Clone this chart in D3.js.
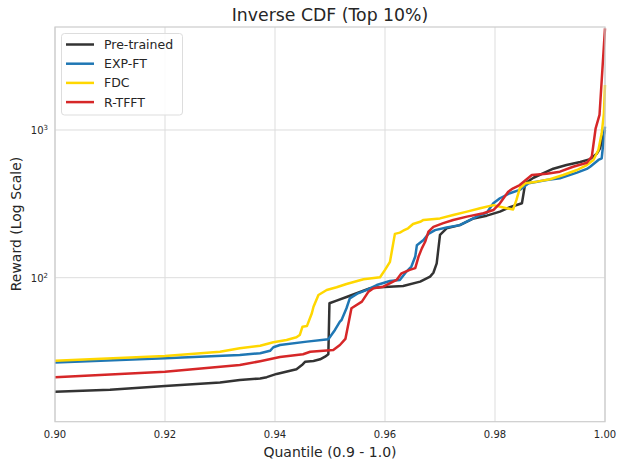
<!DOCTYPE html>
<html><head><meta charset="utf-8">
<script src="https://cdn.jsdelivr.net/npm/d3@7/dist/d3.min.js"></script>
<style>body{margin:0;background:#fff;} text{font-family:"DejaVu Sans",sans-serif;}</style>
</head><body><svg id="c" width="618" height="461"></svg>
<script>
const seriesNames = ["Pre-trained","EXP-FT","FDC","R-TFFT"];
const seriesColors = ["#333333","#1f77b4","#ffd700","#d62728"];
const xTicks = [0.90,0.92,0.94,0.96,0.98,1.00];
const yTicks = [100,1000];

const pretrainedQ = [0.900,0.910,0.920,0.930,0.9336,0.9373,0.9385,0.9403,0.9439,0.9449,0.9455,0.9470,0.9482,0.9491,0.9497,0.9499,0.9512,0.9530,0.9573,0.9591,0.9633,0.9664,0.9682,0.9688,0.9694,0.9700,0.9712,0.9736,0.9761,0.9785,0.9809,0.9827,0.9849,0.9855,0.9870,0.9906,0.9930,0.9955,0.9973,0.9985,0.9991,0.9996,1.000];
const pretrainedV = [16.9,17.4,18.5,19.5,20.3,20.8,21.2,22.3,24.0,25.6,27.0,27.3,28.0,29.2,30.3,67.1,70,74,84.8,86.1,87.9,94,101.6,108,125,195,216,227,252,263,280,300,319,436,475,547,579,607,635,690,752,880,1000];

const expQ = [0.900,0.920,0.9336,0.9373,0.9391,0.9397,0.9409,0.9458,0.9497,0.9509,0.9518,0.9521,0.9530,0.9536,0.9551,0.9567,0.9585,0.9609,0.9627,0.9639,0.9648,0.9655,0.9658,0.9670,0.9679,0.9691,0.9712,0.9736,0.9755,0.9773,0.9785,0.9797,0.9809,0.9827,0.9845,0.9861,0.9894,0.9918,0.9949,0.9967,0.9973,0.9988,0.9994,1.000];
const expV = [26.7,28.5,30.0,30.8,32.0,33.8,35.0,36.9,38.3,44.3,50.4,51.7,62.1,72.5,78.4,82.6,89.2,95,96.5,110,119,139,166,180,198,210,219,227,246,266,275,319,345,373,393,436,459,471,514,545,564,627,643,1053];

const fdcQ = [0.900,0.920,0.930,0.9336,0.9373,0.9397,0.9421,0.9439,0.9445,0.9450,0.9458,0.9467,0.9470,0.9479,0.9494,0.9512,0.9530,0.9561,0.9591,0.9600,0.9609,0.9618,0.9627,0.9633,0.9642,0.9651,0.9664,0.9670,0.9700,0.9724,0.9749,0.9773,0.9797,0.9821,0.9833,0.9839,0.9845,0.9855,0.9876,0.9900,0.9924,0.9949,0.9967,0.9979,0.9988,0.9994,0.9998,1.000];
const fdcV = [27.4,29.5,31.5,33.3,34.6,36.5,37.9,39.5,40.9,46.6,47.0,57.4,63.6,76.4,82.6,86.1,90.6,97.5,100.6,113,128,198,202,208,216,231,239,246,252,266,280,295,310,295,290,336,403,436,447,464,496,536,579,627,732,950,1298,2017];

const rtfftQ = [0.900,0.920,0.9336,0.9373,0.9409,0.9451,0.9464,0.9506,0.9518,0.9528,0.9534,0.9539,0.9558,0.9570,0.9579,0.9597,0.9621,0.9630,0.9645,0.9655,0.9661,0.9667,0.9673,0.9679,0.9688,0.9706,0.9724,0.9749,0.9779,0.9797,0.9809,0.9824,0.9833,0.9845,0.9867,0.9894,0.9918,0.9942,0.9967,0.9976,0.9983,0.9990,1.000];
const rtfftV = [21.2,23.1,25.6,27.2,29.0,30.3,31.5,32.4,35,38.5,50,62.1,68.8,80.4,84.8,86.9,96.5,107,113,116,139,158,175,205,221,234,246,259,273,287,319,382,403,424,496,505,522,564,600,660,1027,1264,4880];

const L=55, R=605, T=27, B=421.7;
const svg = d3.select("#c");
const x = d3.scaleLinear().domain([0.9,1.0]).range([L,R]);
const y = d3.scaleLog().domain([10.59,4982]).range([B,T]);

// grid
const g = svg.append("g");
g.selectAll(".vx").data(xTicks).enter().append("line")
  .attr("x1",d=>x(d)).attr("x2",d=>x(d)).attr("y1",T).attr("y2",B)
  .attr("stroke","#dddddd").attr("stroke-width",1);
g.selectAll(".hy").data(yTicks).enter().append("line")
  .attr("x1",L).attr("x2",R).attr("y1",d=>y(d)).attr("y2",d=>y(d))
  .attr("stroke","#dddddd").attr("stroke-width",1);

// lines
const data = [
  {name:seriesNames[0], q:pretrainedQ, v:pretrainedV},
  {name:seriesNames[1], q:expQ, v:expV},
  {name:seriesNames[2], q:fdcQ, v:fdcV},
  {name:seriesNames[3], q:rtfftQ, v:rtfftV}
];
const line = d3.line().x(d=>x(d[0])).y(d=>y(d[1]));
svg.append("clipPath").attr("id","clp").append("rect")
  .attr("x",L).attr("y",T-2).attr("width",R-L+2).attr("height",B-T+2);
data.forEach((s,i)=>{
  svg.append("path").datum(s.q.map((q,j)=>[q,s.v[j]]))
    .attr("d",line).attr("fill","none").attr("stroke",seriesColors[i])
    .attr("stroke-width",2.5).attr("stroke-linejoin","round").attr("clip-path","url(#clp)");
});

// frame
svg.append("rect").attr("x",L).attr("y",T).attr("width",R-L).attr("height",B-T)
  .attr("fill","none").attr("stroke","#cccccc").attr("stroke-width",1.2);

// x ticks
svg.selectAll(".xt").data(xTicks).enter().append("text")
  .attr("x",d=>x(d)).attr("y",438).attr("text-anchor","middle")
  .attr("font-size",10).attr("fill","#262626").text(d=>d3.format(".2f")(d));
// y ticks
yTicks.forEach(v=>{
  const t = svg.append("text").attr("x",48).attr("y",y(v)+4).attr("text-anchor","end")
    .attr("font-size",10).attr("fill","#262626");
  t.append("tspan").text("10");
  t.append("tspan").attr("font-size",7).attr("dy",-4).text(String(Math.round(Math.log10(v))));
});

// labels
svg.append("text").attr("x",330).attr("y",21).attr("text-anchor","middle")
  .attr("font-size",17.3).attr("fill","#262626").text("Inverse CDF (Top 10%)");
svg.append("text").attr("x",330).attr("y",457).attr("text-anchor","middle")
  .attr("font-size",14).attr("fill","#262626").text("Quantile (0.9 - 1.0)");
svg.append("text").attr("transform","translate(21,224) rotate(-90)").attr("text-anchor","middle")
  .attr("font-size",14).attr("fill","#262626").text("Reward (Log Scale)");

// legend
const lg = svg.append("g");
lg.append("rect").attr("x",61.5).attr("y",33.5).attr("width",121).attr("height",81.5)
  .attr("rx",3).attr("fill","#ffffff").attr("fill-opacity",0.85).attr("stroke","#dddddd");
seriesNames.forEach((n,i)=>{
  const yy = 44.5 + i*19.2;
  lg.append("line").attr("x1",66).attr("x2",94).attr("y1",yy).attr("y2",yy)
    .attr("stroke",seriesColors[i]).attr("stroke-width",2.5);
  lg.append("text").attr("x",104).attr("y",yy+4.5).attr("font-size",12.5).attr("fill","#262626").text(n);
});
</script></body></html>
